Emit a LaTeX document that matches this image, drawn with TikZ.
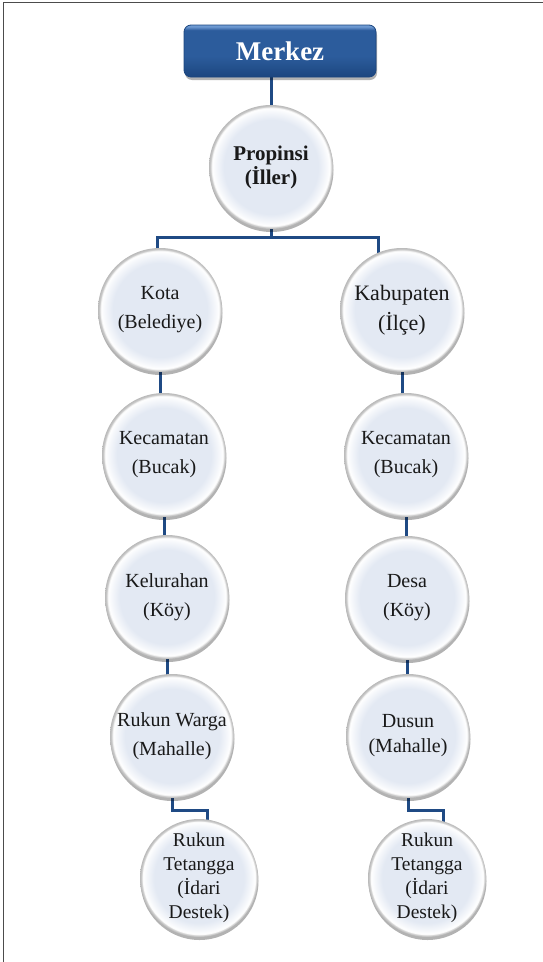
\documentclass[tikz,border=0pt]{standalone}
\usepackage{fontspec}
\setmainfont{Liberation Serif}
\usetikzlibrary{shadows,calc}
\definecolor{bub}{HTML}{E3E9F3}
\definecolor{lnk}{HTML}{1F4A84}
\definecolor{bxlight}{HTML}{6E9AD2}
\definecolor{bxmid}{HTML}{2C5C9C}
\definecolor{bxdark}{HTML}{1C467F}
\pgfdeclareradialshading{bubble}{\pgfpointorigin}{color(0bp)=(bub); color(19bp)=(bub); color(22bp)=(white!60!bub); color(23.8bp)=(white); color(24.4bp)=(gray!40); color(25bp)=(gray!55); color(50bp)=(gray!55)}
\pgfdeclareverticalshading{boxsh}{100bp}{color(0bp)=(bxdark); color(25bp)=(bxdark); color(45bp)=(bxmid); color(70bp)=(bxmid); color(73.5bp)=(bxlight); color(75bp)=(bxlight); color(100bp)=(bxlight)}
\pgfdeclarelayer{bg}\pgfsetlayers{bg,main}
\begin{document}
\begin{tikzpicture}[x=1bp,y=-1bp,
  bubblenode/.style={circle, minimum size=124bp, inner sep=0pt, shade, shading=bubble,
    align=center, text=black!90, font=\fontsize{20bp}{29bp}\selectfont,
    drop shadow={shadow xshift=0.5bp, shadow yshift=-3bp, opacity=0.3, fill=black}},
  smallbub/.style={bubblenode, minimum size=118bp, font=\fontsize{19.5bp}{24bp}\selectfont},
  topbox/.style={rounded corners=7bp, minimum width=192bp, minimum height=52bp,
    shade, shading=boxsh, draw=bxdark, line width=0.8bp, text=white,
    font=\bfseries\fontsize{27bp}{30bp}\selectfont,
    drop shadow={shadow xshift=1bp, shadow yshift=-3bp, opacity=0.3, fill=black}},
  link/.style={draw=lnk, line width=3bp},
  frame/.style={draw=black!70, line width=1.5bp}]
\useasboundingbox (0,0) rectangle (543,962);

% nodes
\node[topbox] (mer) at (280,51) {Merkez};
\node[bubblenode, font=\bfseries\fontsize{21bp}{24bp}\selectfont] (prop) at (271,167) {Propinsi\\(İller)};

\node[bubblenode] (kota) at (160,310) {Kota\\(Belediye)};
\node[bubblenode] (kec1) at (164,455) {Kecamatan\\(Bucak)};
\node[bubblenode] (kel) at (167,597) {Kelurahan\\(Köy)};
\node[bubblenode] (rw) at (172,736) {Rukun Warga\\(Mahalle)};
\node[smallbub] (rt1) at (199,878) {Rukun\\Tetangga\\(İdari\\Destek)};

\node[bubblenode, font=\fontsize{22bp}{30bp}\selectfont] (kab) at (402,310) {Kabupaten\\(İlçe)};
\node[bubblenode] (kec2) at (406,455) {Kecamatan\\(Bucak)};
\node[bubblenode] (desa) at (407,598) {Desa\\(Köy)};
\node[bubblenode, font=\fontsize{20bp}{25bp}\selectfont] (dus) at (408,736) {Dusun\\(Mahalle)};
\node[smallbub] (rt2) at (427,878) {Rukun\\Tetangga\\(İdari\\Destek)};

\coordinate (bL) at (157,237);
\coordinate (bR) at (378,237);
\coordinate (e1) at (207,810);
\coordinate (e2) at (443,810);

\begin{pgfonlayer}{bg}
\draw[frame] (3.5,962) -- (3.5,2.5) -- (543,2.5);
\draw[link] (prop.center) -- (prop |- mer.center);
\draw[link] (prop.center) -- (prop |- bL);
\draw[link] (bL |- kota.center) -- (bL) -- (bR) -- (bR |- kab.center);
\draw[link] (kota.center) -- (kota |- kec1.center);
\draw[link] (kec1.center) -- (kec1 |- kel.center);
\draw[link] (kel.center) -- (kel |- rw.center);
\draw[link] (rw.center) -- (rw |- e1) -- (e1) -- (e1 |- rt1.center);
\draw[link] (kab.center) -- (kab |- kec2.center);
\draw[link] (kec2.center) -- (kec2 |- desa.center);
\draw[link] (desa.center) -- (desa |- dus.center);
\draw[link] (dus.center) -- (dus |- e2) -- (e2) -- (e2 |- rt2.center);
\end{pgfonlayer}
\end{tikzpicture}
\end{document}
